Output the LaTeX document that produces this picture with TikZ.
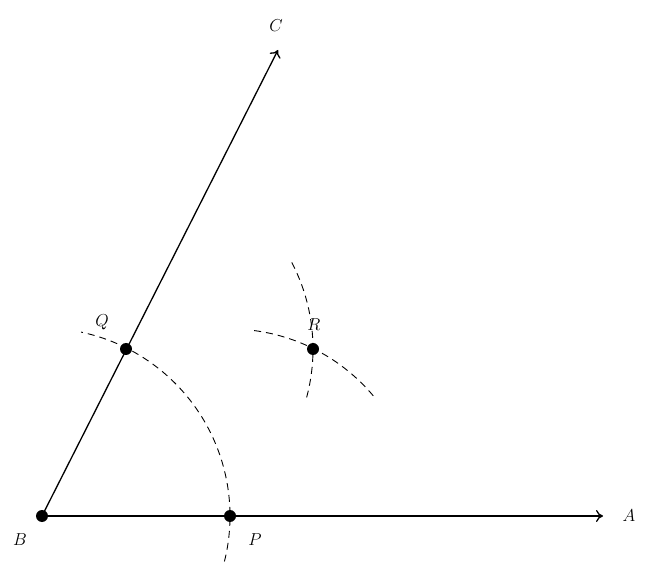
\documentclass[tikz,border=0pt]{standalone}
\usetikzlibrary{arrows.meta}
\begin{document}
\begin{tikzpicture}[x=1pt,y=1pt,
  ray/.style={line width=1.3pt,-{To[length=7pt,width=12pt]}},
  arcd/.style={line width=0.9pt,dash pattern=on 7pt off 5pt},
  dot/.style={circle,fill,inner sep=0pt,minimum size=12pt},
  lab/.style={font=\LARGE}]
\useasboundingbox (0,0) rectangle (666,570);
\node[dot] (B) at (42,54) {};
\node[dot] (P) at (230,54) {};
\node[dot] (Q) at (126,221) {};
\node[dot] (R) at (313,221) {};
\coordinate (A) at (603,54);
\coordinate (C) at (278,520);
\draw[ray] (B.center) -- (A);
\draw[ray] (B.center) -- (C);
\draw[arcd] (B.center) ++(-14:188) arc[start angle=-14,end angle=78,radius=188];
\draw[arcd] (P.center) ++(40:187) arc[start angle=40,end angle=84,radius=187];
\draw[arcd] (Q.center) ++(-15:187) arc[start angle=-15,end angle=28,radius=187];
\node[lab] (lC) at (276,544) {$C$};
\node[lab] (lA) at (629,54) {$A$};
\node[lab] (lB) at (20,30) {$B$};
\node[lab] (lP) at (255,30) {$P$};
\node[lab] (lQ) at (102,248) {$Q$};
\node[lab] (lR) at (314,245) {$R$};
\end{tikzpicture}
\end{document}
